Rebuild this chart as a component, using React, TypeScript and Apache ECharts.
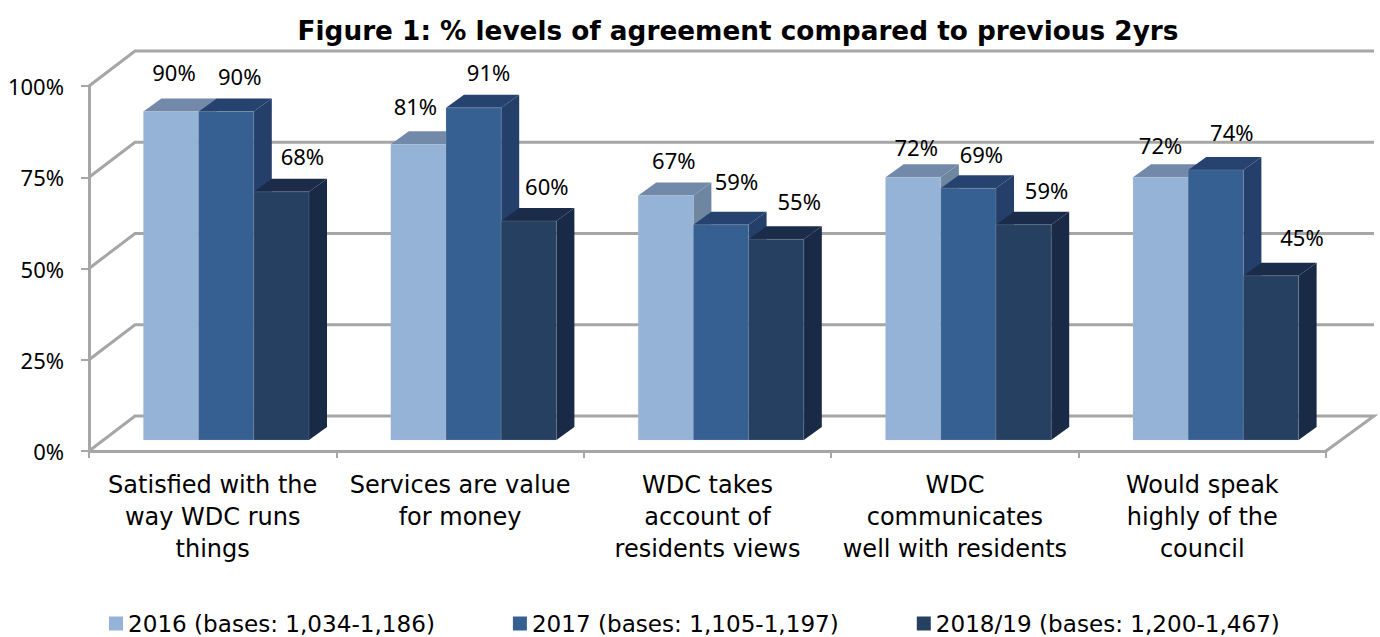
import React, { useEffect, useRef } from "react";
import * as echarts from "echarts";

const categories = [
  "Satisfied with the\nway WDC runs\nthings",
  "Services are value\nfor money",
  "WDC takes\naccount of\nresidents views",
  "WDC\ncommunicates\nwell with residents",
  "Would speak\nhighly of the\ncouncil",
];
const seriesNames = [
  "2016 (bases: 1,034-1,186)",
  "2017 (bases: 1,105-1,197)",
  "2018/19 (bases: 1,200-1,467)",
];
const values2016 = [90, 81, 67, 72, 72];
const values2017 = [90, 91, 59, 69, 74];
const values2018 = [68, 60, 55, 59, 45];
const gridValues = [0, 25, 50, 75, 100];

// Hand placement of each data label relative to the top-centre of its bar's front face
const labelNudge = [
  [[3, -40], [-3, -38], [8, -35.5], [3, -30], [0, -32]],
  [[13.5, -35.5], [15, -36], [15.5, -43.6], [13, -34], [16, -38]],
  [[21, -36], [18, -35], [23, -38], [23, -34.6], [31, -39]],
];
const FONT = "Noto Sans";
const WIDE_FONT = "DejaVu Sans";
const GREY = "#A6A6A6";
const DEPTH_X = 46;
const DEPTH_Y = 35;
const BAR_W = 55.2;
const BAR_DX = 18;
const BAR_DY = 13;
const BASE_Y = 11;
const palettes = [
  { front: "#95B3D7", top: "#7289A9", side: "#6F86A1" },
  { front: "#376092", top: "#26426F", side: "#24406A" },
  { front: "#254061", top: "#1A2C4A", side: "#182A45" },
];

function barRenderer(s: number) {
  return (params: any, api: any) => {
    const c = api.value(0) as number;
    const v = api.value(1) as number;
    const [cx, yTop] = api.coord([c, v]);
    const [, y0] = api.coord([c, 0]);
    const top = yTop - BASE_Y;
    const bottom = y0 - BASE_Y;
    const left = cx + 13.5 + (s - 1) * BAR_W - BAR_W / 2;
    const right = left + BAR_W;
    const p = palettes[s];
    const n = labelNudge[s][c];
    return {
      type: "group",
      children: [
        { type: "polygon", shape: { points: [[right, top], [right + BAR_DX, top - BAR_DY], [right + BAR_DX, bottom - BAR_DY], [right, bottom]] }, style: { fill: p.side } },
        { type: "polygon", shape: { points: [[left, top], [left + BAR_DX, top - BAR_DY], [right + BAR_DX, top - BAR_DY], [right, top]] }, style: { fill: p.top } },
        { type: "rect", shape: { x: left, y: top, width: BAR_W, height: bottom - top }, style: { fill: p.front, stroke: "rgba(190,190,190,0.2)", lineWidth: 1 } },
        {
          type: "text",
          z2: 100,
          style: {
            text: `${v}%`,
            x: (left + right) / 2 + n[0],
            y: top + n[1],
            align: "center",
            verticalAlign: "middle",
            fill: "#000",
            font: `22px "${FONT}"`,
          },
        },
      ],
    };
  };
}

function wallRenderer(params: any, api: any) {
  const v = api.value(0) as number;
  const [, y] = api.coord([0, v]);
  const cs = params.coordSys;
  const x0 = cs.x;
  const x1 = cs.x + cs.width;
  const pts: number[][] = [[x0, y], [x0 + DEPTH_X, y - DEPTH_Y], [x1 + DEPTH_X + 2, y - DEPTH_Y]];
  if (v === 0) pts.push([x1, y]);
  return { type: "polyline", shape: { points: pts }, style: { fill: "none", stroke: GREY, lineWidth: 3 } };
}

export default function App() {
  const ref = useRef<HTMLDivElement>(null);
  useEffect(() => {
    const chart = echarts.init(ref.current!, undefined, { renderer: "svg" });
    const all = [values2016, values2017, values2018];
    chart.setOption({
      animation: false,
      backgroundColor: "#fff",
      title: {
        text: "Figure 1: % levels of agreement compared to previous 2yrs",
        left: 738,
        top: 13,
        textAlign: "center",
        textVerticalAlign: "top",
        textStyle: { fontFamily: WIDE_FONT, fontSize: 26.3, fontWeight: "bold", color: "#000" },
        padding: [5, 10, 5, 0],
      },
      legend: {
        data: seriesNames,
        left: 109,
        top: 612,
        padding: 0,
        itemWidth: 14,
        itemHeight: 14,
        itemGap: 78,
        icon: "rect",
        textStyle: { fontFamily: WIDE_FONT, fontSize: 23.1, color: "#000" },
      },
      grid: { left: 89, right: 54, top: 86, bottom: 186, containLabel: false },
      xAxis: {
        type: "category",
        data: categories,
        axisLine: { lineStyle: { color: GREY, width: 3 } },
        axisTick: { show: true, length: 7, lineStyle: { color: GREY, width: 2 } },
        axisLabel: { fontFamily: WIDE_FONT, fontSize: 24, color: "#000", lineHeight: 32, margin: 18, interval: 0 },
      },
      yAxis: {
        type: "value",
        min: 0,
        max: 100,
        interval: 25,
        axisLine: { show: true, lineStyle: { color: GREY, width: 3 } },
        axisTick: { show: true, length: 8, lineStyle: { color: GREY, width: 2 } },
        splitLine: { show: false },
        axisLabel: { fontFamily: FONT, fontSize: 22, color: "#000", margin: 25, formatter: "{value}%" },
      },
      series: [
        {
          type: "custom",
          name: "walls",
          coordinateSystem: "cartesian2d",
          renderItem: wallRenderer,
          data: gridValues.map((v) => [v]),
          encode: { y: 0 },
          silent: true,
          clip: false,
        },
        ...seriesNames.map((name, s) => ({
          type: "custom",
          name,
          coordinateSystem: "cartesian2d",
          renderItem: barRenderer(s),
          itemStyle: { color: palettes[s].front },
          data: all[s].map((v, i) => [i, v]),
          encode: { x: 0, y: 1 },
          clip: false,
        })),
      ],
    });
    return () => chart.dispose();
  }, []);
  return <div ref={ref} style={{ position: "absolute", left: 0, top: 0, width: 1380, height: 637 }} />;
}
